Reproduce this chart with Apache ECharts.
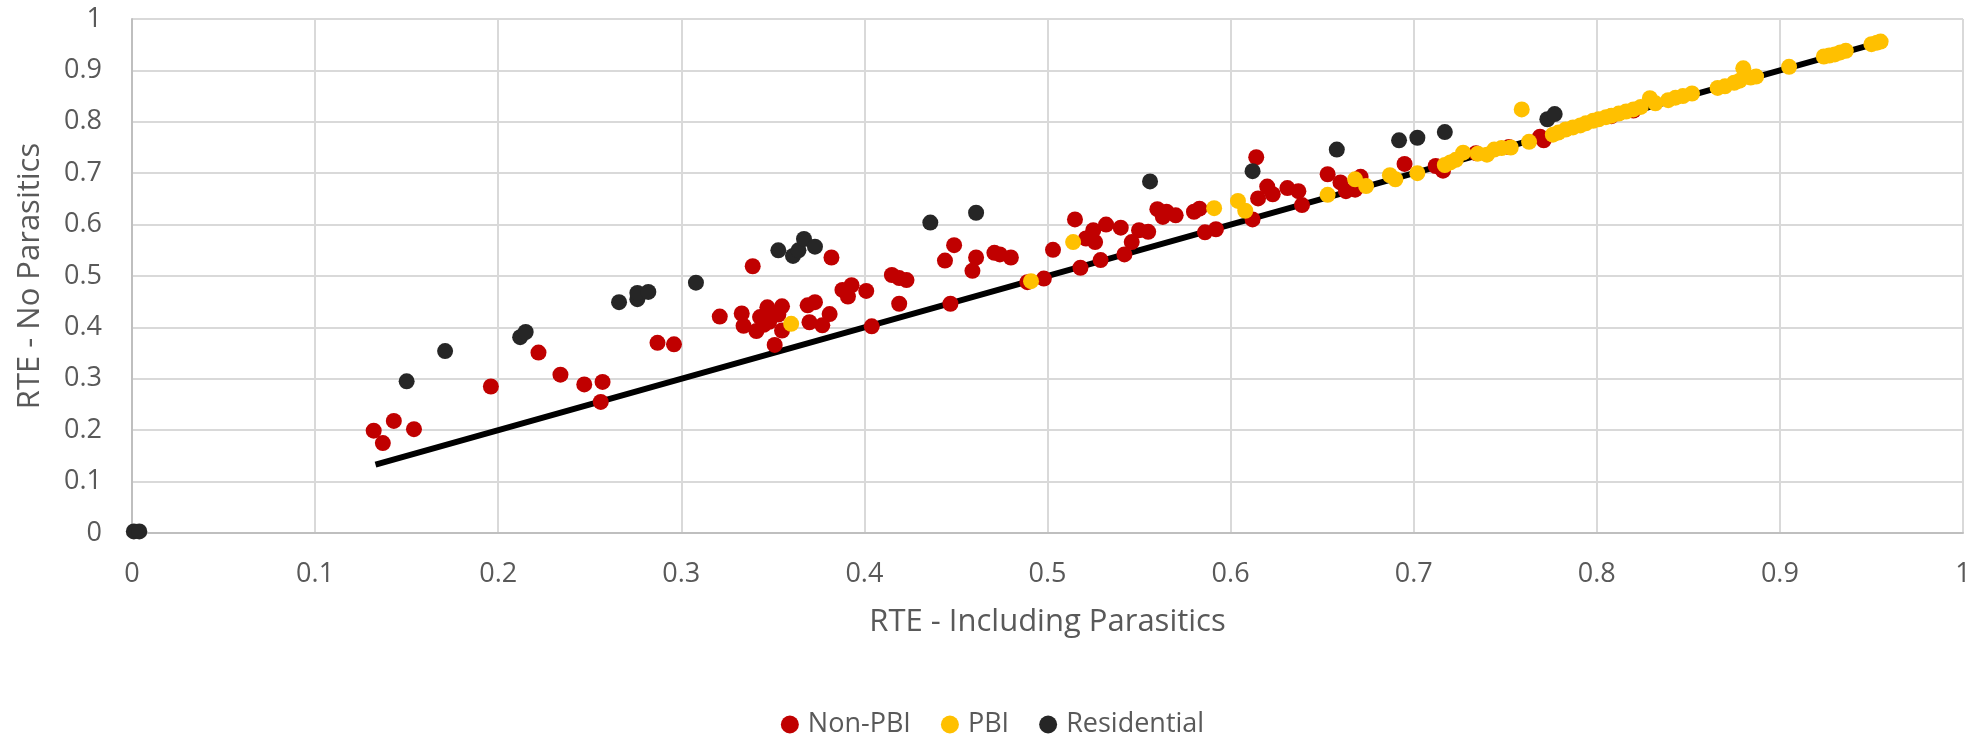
<!DOCTYPE html>
<html>
<head>
<meta charset="utf-8">
<script src="https://cdn.jsdelivr.net/npm/echarts@6/dist/echarts.min.js"></script>
<style>
html,body{margin:0;padding:0;background:#fff;}
#chart{width:1985px;height:738px;}
</style>
</head>
<body>
<div id="chart"></div>
<script>
// ---- data ----
const seriesNames = ['Non-PBI', 'PBI', 'Residential'];
const xTicks = [0, 0.1, 0.2, 0.3, 0.4, 0.5, 0.6, 0.7, 0.8, 0.9, 1];

const nonPbiX = [0.132,0.137,0.143,0.154,0.196,0.222,0.234,0.247,0.257,0.256,0.287,0.296,
  0.321,0.333,0.334,0.339,0.341,0.343,0.345,0.347,0.348,0.351,0.355,0.355,0.353,0.369,0.373,0.370,0.377,0.381,0.382,0.388,0.391,0.393,0.401,0.404,
  0.415,0.419,0.423,0.419,0.444,0.449,0.447,0.459,0.461,0.471,0.474,0.480,0.489,0.498,0.503,
  0.515,0.518,0.521,0.525,0.526,0.529,0.532,0.540,0.542,0.546,0.550,0.555,0.560,0.563,0.565,0.570,0.580,0.583,0.586,0.592,
  0.614,0.612,0.615,0.620,0.623,0.631,0.637,0.639,0.653,0.660,0.663,0.668,0.671,0.695,0.712,0.716,0.734,0.752,0.769,0.771,0.808,0.820];
const nonPbiY = [0.199,0.175,0.218,0.202,0.285,0.351,0.308,0.289,0.294,0.255,0.370,0.367,
  0.421,0.427,0.403,0.519,0.393,0.420,0.405,0.439,0.411,0.366,0.441,0.394,0.425,0.443,0.449,0.410,0.404,0.426,0.536,0.473,0.460,0.482,0.471,0.402,
  0.502,0.496,0.492,0.446,0.530,0.560,0.446,0.510,0.536,0.545,0.542,0.536,0.488,0.495,0.551,
  0.610,0.516,0.573,0.589,0.566,0.531,0.600,0.594,0.542,0.566,0.589,0.586,0.630,0.615,0.625,0.618,0.625,0.631,0.585,0.591,
  0.731,0.610,0.651,0.674,0.659,0.671,0.665,0.638,0.698,0.682,0.665,0.668,0.693,0.718,0.714,0.705,0.739,0.751,0.771,0.764,0.811,0.822];

const pbiX = [0.360,0.491,0.514,0.591,0.604,0.608,0.653,0.668,0.674,0.687,0.690,0.702,0.717,0.720,0.723,0.727,0.735,0.740,0.744,0.748,0.753,0.759,0.763,
  0.776,0.779,0.783,0.787,0.791,0.794,0.798,0.801,0.805,0.808,0.812,0.816,0.820,0.824,0.829,0.832,0.839,0.843,0.847,0.852,
  0.866,0.870,0.875,0.878,0.880,0.884,0.887,0.905,0.924,0.927,0.930,0.933,0.936,0.950,0.953,0.955];
const pbiY = [0.407,0.490,0.566,0.632,0.646,0.627,0.658,0.688,0.675,0.696,0.688,0.700,0.716,0.721,0.726,0.740,0.738,0.736,0.746,0.749,0.750,0.824,0.761,
  0.775,0.779,0.785,0.789,0.793,0.797,0.802,0.805,0.809,0.812,0.816,0.820,0.824,0.829,0.846,0.836,0.842,0.847,0.850,0.855,
  0.866,0.869,0.876,0.880,0.904,0.886,0.888,0.907,0.927,0.929,0.931,0.935,0.938,0.951,0.954,0.956];

const resX = [0.001,0.004,0.150,0.171,0.212,0.215,0.266,0.276,0.276,0.282,0.308,0.353,0.361,0.364,0.367,0.373,0.436,0.461,0.556,0.612,0.658,0.692,0.702,0.717,0.773,0.777];
const resY = [0.003,0.003,0.295,0.354,0.381,0.391,0.449,0.455,0.467,0.469,0.487,0.550,0.539,0.550,0.572,0.557,0.604,0.623,0.684,0.704,0.746,0.764,0.769,0.780,0.805,0.815];

const refLineX = [0.133, 0.957];
const refLineY = [0.133, 0.957];

const colors = {'Non-PBI': '#C00000', 'PBI': '#FFC000', 'Residential': '#262626'};

function pairs(xs, ys){ return xs.map((x,i)=>[x, ys[i]]); }

const FONT = 'Open Sans';
const chart = echarts.init(document.getElementById('chart'), null, {renderer:'canvas'});

const axisCommon = {
  type: 'value', min: 0, max: 1, interval: 0.1,
  axisLine: {show: true, lineStyle: {color: '#BFBFBF', width: 2}},
  axisTick: {show: false},
  splitLine: {show: true, lineStyle: {color: '#D9D9D9', width: 2}},
  axisLabel: {color: '#595959', fontSize: 27, fontFamily: FONT,
    formatter: v => String(Math.round(v*10)/10)},
  nameLocation: 'middle',
  nameTextStyle: {color: '#595959', fontSize: 31, fontFamily: FONT}
};

const option = {
  animation: false,
  backgroundColor: '#ffffff',
  grid: {left: 132, right: 22, top: 19, bottom: 205, containLabel: false},
  xAxis: Object.assign({}, axisCommon, {
    name: 'RTE - Including Parasitics', nameGap: 74,
    axisLabel: Object.assign({}, axisCommon.axisLabel, {margin: 28})
  }),
  yAxis: Object.assign({}, axisCommon, {
    name: 'RTE - No Parasitics', nameGap: 86,
    axisLabel: Object.assign({}, axisCommon.axisLabel, {margin: 30})
  }),
  legend: {
    data: seriesNames.map(n => ({name: n, icon: 'circle'})),
    left: 'center', top: 706,
    itemWidth: 18, itemHeight: 18, itemGap: 30,
    textStyle: {color: '#595959', fontSize: 27, fontFamily: FONT, padding: [0,0,0,4]}
  },
  series: [
    {
      name: 'ref', type: 'line', data: pairs(refLineX, refLineY),
      showSymbol: false, symbol: 'none', silent: true, z: 1,
      lineStyle: {color: '#000000', width: 6}
    }
  ].concat([
    ['Non-PBI', nonPbiX, nonPbiY],
    ['PBI', pbiX, pbiY],
    ['Residential', resX, resY]
  ].map((s, i) => ({
    name: s[0], type: 'scatter', data: pairs(s[1], s[2]),
    symbol: 'circle', symbolSize: 16, z: 2 + i,
    itemStyle: {color: colors[s[0]], opacity: 1}
  })))
};
chart.setOption(option);
</script>
</body>
</html>
